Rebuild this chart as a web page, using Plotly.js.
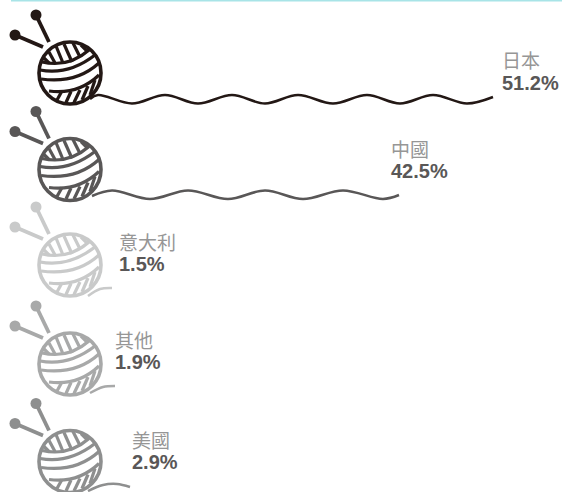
<!DOCTYPE html>
<html><head><meta charset="utf-8">
<script src="https://cdn.plot.ly/plotly-3.0.1.min.js"></script>
<style>html,body{margin:0;padding:0;background:#fff}</style></head>
<body><div id="chart" style="width:562px;height:492px"></div>
<script>
const categories = ['日本','中國','意大利','其他','美國'];
const values = [51.2,42.5,1.5,1.9,2.9];
const colors = ['#231815','#595757','#c9caca','#a8a9a9','#8e8f8f'];
const ballY = [73,169.5,265,364,461.5];
const labelX = [502,391,119,115,132];
const nameY = [60.5,150,242.5,340.5,441];
const valueY = [83.5,171.8,264,362.3,463];
const wave1X = [90,98,132,165,198,232,265,298,333,367,400,433,467,493];
const wave1Y = [99,95,103.5,95,103.5,95,103.5,95,103.5,95,103.5,95,103.5,97];
const wave2X = [92,112,150,188,228,265,303,343,383,399];
const wave2Y = [196,190.5,199,190.5,199,190.5,199,190.5,199,195];
const wave3X = [88,100,112];
const wave3Y = [296,289,288];
const wave4X = [90,103,115];
const wave4Y = [393,387,386];
const wave5X = [88,103,117,130];
const wave5Y = [491,485,484,487];
const waveX = [wave1X,wave2X,wave3X,wave4X,wave5X];
const waveY = [wave1Y,wave2Y,wave3Y,wave4Y,wave5Y];
const ballCX = 70, ballR = 31;
const needleHeadDX = [-55,-34], needleHeadDY = [-38,-58];
const needleEndDX = [-27,-21], needleEndDY = [-26,-31];

// dark yarn strands, relative to the ball centre
const strandPaths = [
 'M-28 -11 Q-1.5 -5 19 -23',
 'M-30 -3 Q-1.5 2.5 25 -18',
 'M-29 6 Q6 11 29 -10',
 'M-21 18 Q8 22 29 2',
 'M-8 18 L-13 27','M1 18.5 L-4 29.5','M10 17 L4 29.5','M18 13 L12 27','M25 7 L20 22',
 'M-21 -10 L-26 -15','M-15 -10 L-21 -21','M-7 -10 L-14 -27','M2 -11 L-6 -29','M10 -16 L3 -30','M17 -22 L11 -28'
];
function movePath(p,cx,cy){
  return p.replace(/(-?[\d.]+) (-?[\d.]+)/g,(m,a,b)=>(+a+cx)+' '+(+b+cy));
}
const traces=[], shapes=[], annotations=[];
shapes.push({type:'line',xref:'x',yref:'y',x0:11,x1:562,y0:0.4,y1:0.4,line:{color:'#a8e4e7',width:2}});
categories.forEach((c,i)=>{
  const cy=ballY[i], col=colors[i];
  traces.push({type:'scatter',mode:'lines',x:waveX[i],y:waveY[i],line:{color:col,width:2.5,shape:'spline',smoothing:1},hoverinfo:'skip'});
  [0,1].forEach(k=>{
    const hx=ballCX+needleHeadDX[k], hy=cy+needleHeadDY[k];
    traces.push({type:'scatter',mode:'lines',x:[hx,ballCX+needleEndDX[k]],y:[hy,cy+needleEndDY[k]],line:{color:col,width:3.8},hoverinfo:'skip'});
    traces.push({type:'scatter',mode:'markers',x:[hx],y:[hy],marker:{color:col,size:11},hoverinfo:'skip'});
  });
  shapes.push({type:'circle',xref:'x',yref:'y',x0:ballCX-ballR,x1:ballCX+ballR,y0:cy-ballR,y1:cy+ballR,fillcolor:'#fff',line:{color:col,width:3.6}});
  strandPaths.forEach(p=>shapes.push({type:'path',xref:'x',yref:'y',path:movePath(p,ballCX,cy),line:{color:col,width:3.2}}));
  const gap=valueY[i]-nameY[i];
  annotations.push({xref:'x',yref:'y',x:labelX[i],y:nameY[i]-16,xanchor:'left',yanchor:'top',showarrow:false,align:'left',
    text:'<span style="font-size:19px">'+c+'</span><br><span style="font-family:Liberation Sans;font-size:20px;font-weight:bold;color:#595757">'+values[i]+'%</span>',
    font:{family:'"Noto Sans CJK TC"',size:(gap-0.7)/1.3,color:'#969696'},borderpad:0,xshift:-1});
});
Plotly.newPlot('chart',traces,{
  width:562,height:492,margin:{l:0,r:0,t:0,b:0},showlegend:false,
  paper_bgcolor:'#fff',plot_bgcolor:'#fff',
  xaxis:{range:[0,562],visible:false,fixedrange:true},
  yaxis:{range:[492,0],visible:false,fixedrange:true},
  shapes,annotations
},{displayModeBar:false,staticPlot:true});
</script></body></html>
